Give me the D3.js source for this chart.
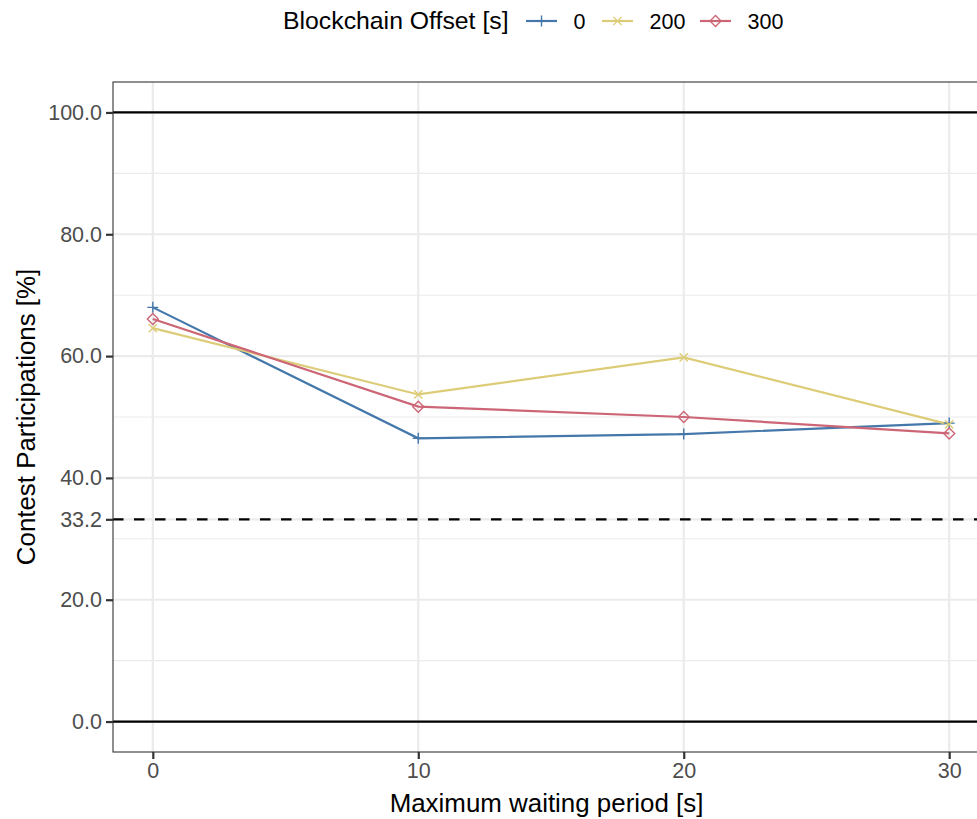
<!DOCTYPE html>
<html>
<head>
<meta charset="utf-8">
<script src="https://cdn.jsdelivr.net/npm/d3@7"></script>
<style>
  body { margin: 0; background: #fff; }
  text { font-family: "Liberation Sans", Arial, sans-serif; }
</style>
</head>
<body>
<div id="chart"></div>
<script>
// data
const waitPeriods = [0, 10, 20, 30];
const offsets = ["0", "200", "300"];
const offset0 = [68.0, 46.5, 47.2, 49.0];
const offset200 = [64.6, 53.7, 59.8, 48.8];
const offset300 = [66.1, 51.7, 50.0, 47.3];
const yTicks = [0, 20, 33.2, 40, 60, 80, 100];
const yMinor = [10, 30, 50, 70, 90];
const xTicks = [0, 10, 20, 30];

const seriesValues = [offset0, offset200, offset300];
const colors = ["#4477AA", "#DDCC77", "#CC6677"];
const shapes = ["plus", "cross", "diamond"];

const width = 977, height = 819;
const margin = { top: 82, right: -12, bottom: 67, left: 113 };

const svg = d3.select("#chart").append("svg")
  .attr("width", width)
  .attr("height", height);

const x = d3.scaleLinear().domain([-1.5, 31.5])
  .range([margin.left, width - margin.right]);
const y = d3.scaleLinear().domain([-5, 105])
  .range([height - margin.bottom, margin.top]);

const panel = svg.append("g");

// minor grid
panel.selectAll("line.minor").data(yMinor).enter().append("line")
  .attr("x1", margin.left).attr("x2", width)
  .attr("y1", d => y(d)).attr("y2", d => y(d))
  .attr("stroke", "#ebebeb").attr("stroke-width", 1.1);

// major grid
panel.selectAll("line.majory").data(yTicks).enter().append("line")
  .attr("x1", margin.left).attr("x2", width)
  .attr("y1", d => y(d)).attr("y2", d => y(d))
  .attr("stroke", "#ebebeb").attr("stroke-width", 2.2);
panel.selectAll("line.majorx").data(xTicks).enter().append("line")
  .attr("x1", d => x(d)).attr("x2", d => x(d))
  .attr("y1", margin.top).attr("y2", height - margin.bottom)
  .attr("stroke", "#ebebeb").attr("stroke-width", 2.2);

// reference lines
panel.append("line")
  .attr("x1", margin.left).attr("x2", width)
  .attr("y1", y(100)).attr("y2", y(100))
  .attr("stroke", "#000").attr("stroke-width", 2.2);
panel.append("line")
  .attr("x1", margin.left).attr("x2", width)
  .attr("y1", y(0)).attr("y2", y(0))
  .attr("stroke", "#000").attr("stroke-width", 2.2);
panel.append("line")
  .attr("x1", margin.left).attr("x2", width)
  .attr("y1", y(33.2)).attr("y2", y(33.2))
  .attr("stroke", "#000").attr("stroke-width", 2.2)
  .attr("stroke-dasharray", "10.5,10.5");

// series
const line = d3.line().x((d, i) => x(waitPeriods[i])).y(d => y(d));

function drawShape(g, shape, color, cx, cy) {
  const s = 5.5;
  if (shape === "plus") {
    g.append("path")
      .attr("d", `M${cx - s},${cy}H${cx + s}M${cx},${cy - s}V${cy + s}`)
      .attr("stroke", color).attr("stroke-width", 1.4).attr("fill", "none");
  } else if (shape === "cross") {
    const c = s * 0.75;
    g.append("path")
      .attr("d", `M${cx - c},${cy - c}L${cx + c},${cy + c}M${cx - c},${cy + c}L${cx + c},${cy - c}`)
      .attr("stroke", color).attr("stroke-width", 1.4).attr("fill", "none");
  } else {
    const d = s;
    g.append("path")
      .attr("d", `M${cx},${cy - d}L${cx + d},${cy}L${cx},${cy + d}L${cx - d},${cy}Z`)
      .attr("stroke", color).attr("stroke-width", 1.4).attr("fill", "none");
  }
}

seriesValues.forEach((vals, k) => {
  panel.append("path")
    .datum(vals)
    .attr("d", line)
    .attr("fill", "none")
    .attr("stroke", colors[k])
    .attr("stroke-width", 2.2);
});
seriesValues.forEach((vals, k) => {
  const g = panel.append("g");
  vals.forEach((v, i) => drawShape(g, shapes[k], colors[k], x(waitPeriods[i]), y(v)));
});

// panel border
svg.append("rect")
  .attr("x", margin.left).attr("y", margin.top)
  .attr("width", width + 20 - margin.left)
  .attr("height", height - margin.bottom - margin.top)
  .attr("fill", "none").attr("stroke", "#333").attr("stroke-width", 1.1);

// axes
const yAxis = svg.append("g")
  .attr("transform", `translate(${margin.left},0)`)
  .call(d3.axisLeft(y).tickValues(yTicks).tickFormat(d3.format(".1f")).tickSize(7).tickPadding(4));
const xAxis = svg.append("g")
  .attr("transform", `translate(0,${height - margin.bottom})`)
  .call(d3.axisBottom(x).tickValues(xTicks).tickSize(7).tickPadding(4));

[xAxis, yAxis].forEach(a => {
  a.select(".domain").remove();
  a.selectAll(".tick line").attr("stroke", "#333").attr("stroke-width", 2.2);
  a.selectAll(".tick text")
    .attr("fill", "#4d4d4d")
    .style("font-size", "21.5px")
    .style("font-family", "'Liberation Sans', Arial, sans-serif");
});

// axis titles
svg.append("text")
  .attr("x", (margin.left + 988) / 2 - 4).attr("y", 812)
  .attr("text-anchor", "middle")
  .style("font-size", "25.9px")
  .text("Maximum waiting period [s]");
svg.append("text")
  .attr("transform", `translate(35,${(margin.top + height - margin.bottom) / 2}) rotate(-90)`)
  .attr("text-anchor", "middle")
  .style("font-size", "25.9px")
  .text("Contest Participations [%]");

// legend
const legend = svg.append("g").attr("transform", "translate(283,0)");
legend.append("text")
  .attr("x", 0).attr("y", 29)
  .style("font-size", "24.8px")
  .text("Blockchain Offset [s]");
const keyX = [243, 319, 417];
offsets.forEach((lab, k) => {
  const kg = legend.append("g").attr("transform", `translate(${keyX[k]},0)`);
  kg.append("line")
    .attr("x1", 0).attr("x2", 31)
    .attr("y1", 21).attr("y2", 21)
    .attr("stroke", colors[k]).attr("stroke-width", 2.2);
  drawShape(kg, shapes[k], colors[k], 15.5, 21);
  kg.append("text")
    .attr("x", 47.5).attr("y", 29)
    .style("font-size", "21.5px")
    .text(lab);
});
</script>
</body>
</html>
